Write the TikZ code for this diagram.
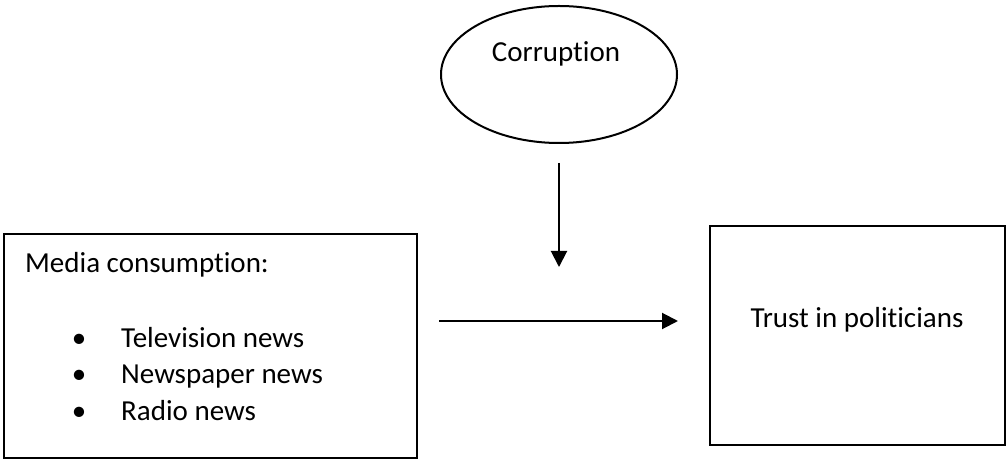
\documentclass[tikz,border=0pt]{standalone}
\usepackage{fontspec}
\setmainfont{Carlito}[Ligatures=NoCommon]
\usepackage{tikz}
\usetikzlibrary{shapes.geometric}
\usetikzlibrary{arrows.meta}
\tikzset{
    box/.style={shape=rectangle, draw=black, line width=2pt, inner sep=0pt},
    txt/.style={inner sep=0pt, font=\fontsize{29}{35}\selectfont},
    link/.style={line width=2pt, -{Triangle[length=16pt, width=16pt]}}}

\begin{document}
\begin{tikzpicture}[x=1pt, y=-1pt]
        \useasboundingbox (0,0) rectangle (1007,462);

            \node[shape=ellipse, draw=black, line width=2pt, minimum width=236pt, minimum height=137pt] (C) at (559,74.5) {};
            \node[box, minimum width=413pt, minimum height=224pt] (A) at (210.5,346) {};
            \node[box, minimum width=295pt, minimum height=219pt] (B) at (857.5,335.5) {};
            \coordinate (M) at (560,321);

            \node[txt, anchor=base] (c1) at (556,62) {Corruption};
            \node[txt, anchor=base] (b1) at (857,328) {Trust in politicians};
            \node[txt, anchor=base west] (a0) at (25,273) {Media consumption:};
            \node[txt, anchor=base] (d1) at (79,348) {•};
            \node[txt, anchor=base] (d2) at (79,384) {•};
            \node[txt, anchor=base] (d3) at (79,420) {•};
            \node[txt, anchor=base west] (a1) at (121,348) {Television news};
            \node[txt, anchor=base west] (a2) at (121,384) {Newspaper news};
            \node[txt, anchor=base west] (a3) at (121,420) {Radio news};

            \draw[link, shorten <=19pt, shorten >=54pt] (C.south) -- (C.south |- M);
            \draw[link, shorten <=21pt, shorten >=31pt] (A.east |- M) -- (B.west |- M);

        \end{tikzpicture}
\end{document}
